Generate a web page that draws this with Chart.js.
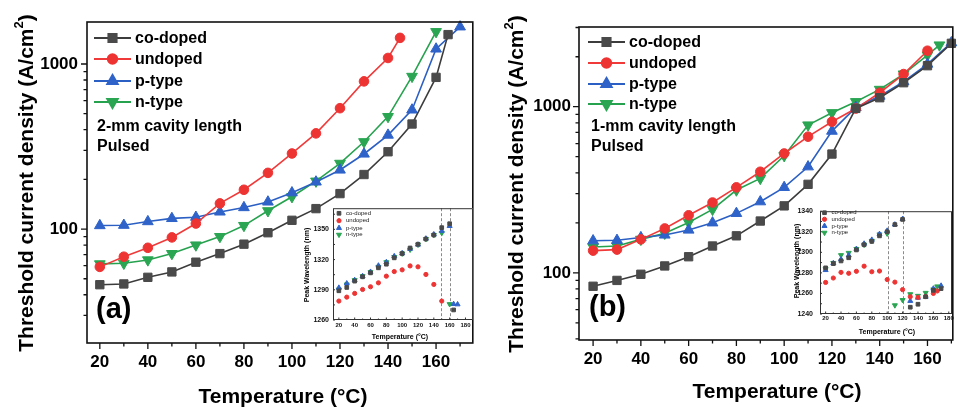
<!DOCTYPE html>
<html>
<head>
<meta charset="utf-8">
<script src="https://cdn.jsdelivr.net/npm/chart.js@4.4.0/dist/chart.umd.min.js"></script>
<style>
  body { margin: 0; background: #fff; width: 960px; height: 407px; overflow: hidden; position: relative; }
  canvas { position: absolute; }
</style>
</head>
<body>
<canvas id="mainA" width="480" height="407" style="left:0;top:0;z-index:1"></canvas>
<canvas id="mainB" width="480" height="407" style="left:480px;top:0;z-index:1"></canvas>
<canvas id="insetA" width="178" height="142" style="left:300px;top:200px;z-index:2"></canvas>
<canvas id="insetB" width="172" height="140" style="left:785px;top:200px;z-index:2"></canvas>
<script>
var FONT = "'Liberation Sans', Arial, Helvetica, sans-serif";

var seriesNames = ['co-doped', 'undoped', 'p-type', 'n-type'];
var lineColors  = ['#3c3c3c', '#f03a3a', '#2b5fc4', '#26a24f'];
var markColors  = ['#4a4a4a', '#ee3333', '#2f63c9', '#2aa552'];
var markStyles  = ['rect', 'circle', 'triangle', 'triangle'];
var markRot     = [0, 0, 0, 180];
var markSize    = [5.9, 4.8, 6.2, 6.2];
var insetSize   = [2.6, 2.1, 2.9, 2.9];

// (a) 2-mm cavity, threshold current density vs temperature
var aTempCo = [20, 30, 40, 50, 60, 70, 80, 90, 100, 110, 120, 130, 140, 150, 160, 165];
var aJthCo  = [46, 46.5, 51, 55, 63, 71, 81, 95, 113, 133, 164, 214, 294, 433, 830, 1507];
var aTempUn = [20, 30, 40, 50, 60, 70, 80, 90, 100, 110, 120, 130, 140, 145];
var aJthUn  = [59, 68, 77, 89, 108, 143, 173, 219, 287, 380, 540, 785, 1088, 1440];
var aTempP  = [20, 30, 40, 50, 60, 70, 80, 90, 100, 110, 120, 130, 140, 150, 160, 170];
var aJthP   = [105, 105.5, 111, 116, 118, 127, 135, 146, 166, 193, 228, 285, 371, 527, 1234, 1680];
var aTempN  = [20, 30, 40, 50, 60, 70, 80, 90, 100, 110, 120, 130, 140, 150, 160];
var aJthN   = [61.5, 62, 65, 71, 80, 90, 105, 129, 157, 195, 250, 338, 480, 841, 1570];

// (b) 1-mm cavity
var bTempCo = [20, 30, 40, 50, 60, 70, 80, 90, 100, 110, 120, 130, 140, 150, 160, 170];
var bJthCo  = [83, 90, 98, 110, 125, 145, 167, 205, 253, 341, 519, 977, 1133, 1395, 1766, 2408];
var bTempUn = [20, 30, 40, 50, 60, 70, 80, 90, 100, 110, 120, 130, 140, 150, 160];
var bJthUn  = [136, 138, 159, 185, 222, 265, 327, 406, 523, 660, 812, 975, 1214, 1573, 2174];
var bTempP  = [20, 30, 40, 50, 60, 70, 80, 90, 100, 110, 120, 130, 140, 150, 160, 170];
var bJthP   = [156, 157, 163, 169, 181, 200, 228, 268, 327, 435, 713, 990, 1159, 1415, 1807, 2430];
var bTempN  = [20, 30, 40, 50, 60, 70, 80, 90, 100, 110, 120, 130, 140, 150, 160, 165];
var bJthN   = [143, 145, 159, 173, 201, 241, 315, 370, 507, 776, 920, 1072, 1271, 1573, 2047, 2352];

// inset (a): peak wavelength (nm)
var iaTempCo = [20, 30, 40, 50, 60, 70, 80, 90, 100, 110, 120, 130, 140, 150, 160, 165];
var iaWlCo   = [1289, 1292.3, 1298.6, 1302.9, 1306.8, 1311.8, 1315.4, 1321.7, 1326, 1331.5, 1335.2, 1340.4, 1344.4, 1351.7, 1355.6, 1270];
var iaTempUn = [20, 30, 40, 50, 60, 70, 80, 90, 100, 110, 120, 130, 140, 150];
var iaWlUn   = [1278.8, 1282.7, 1286.4, 1290.3, 1293, 1296.9, 1303.5, 1308.1, 1309.8, 1313.7, 1312.8, 1305.2, 1295.3, 1278.8];
var iaTempP  = [20, 30, 40, 50, 60, 70, 80, 90, 100, 110, 120, 130, 140, 150, 160, 165, 170];
var iaWlP    = [1292, 1296.3, 1299.6, 1303.5, 1307.8, 1314, 1317.4, 1323.3, 1326.3, 1330.6, 1334.8, 1340.8, 1345, 1348.4, 1353.3, 1275.8, 1275.5];
var iaTempN  = [20, 30, 40, 50, 60, 70, 80, 90, 100, 110, 120, 130, 140, 150, 160];
var iaWlN    = [1290.3, 1295.3, 1299.6, 1303.5, 1307.5, 1312.8, 1317.4, 1322.6, 1326, 1329.9, 1334.8, 1340.4, 1344.4, 1346.4, 1275.8];
var iaCuts   = [149.5, 160];

// inset (b)
var ibTempCo = [20, 30, 40, 50, 60, 70, 80, 90, 100, 110, 120, 130, 140, 150, 160, 170];
var ibWlCo   = [1284.9, 1289, 1291.6, 1294.7, 1302.3, 1307.4, 1310.6, 1316, 1320, 1327, 1332, 1246.6, 1249.5, 1256.8, 1263, 1264.7];
var ibTempUn = [20, 30, 40, 50, 60, 70, 80, 90, 100, 110, 120, 130, 140, 150, 160, 165];
var ibWlUn   = [1270.7, 1275, 1280.5, 1279.6, 1281.5, 1286.5, 1281.1, 1281.8, 1273.5, 1271, 1263.7, 1256.8, 1256.1, 1257, 1260, 1262.4];
var ibTempP  = [20, 30, 40, 50, 60, 70, 80, 90, 100, 110, 120, 130, 140, 150, 160, 170];
var ibWlP    = [1282.7, 1289.4, 1293.2, 1297, 1303.3, 1308.4, 1312.2, 1317.8, 1321, 1327, 1332.4, 1252.7, 1255.8, 1256.8, 1264.7, 1267.5];
var ibTempN  = [20, 30, 40, 50, 60, 70, 80, 90, 100, 110, 120, 130, 140, 150, 160, 165];
var ibWlN    = [1283.7, 1289.7, 1297.3, 1299.5, 1303.3, 1307.4, 1311.2, 1317.5, 1318.2, 1248.5, 1253.6, 1259.3, 1257.7, 1260.6, 1264, 1266.9];
var ibCuts   = [100.5, 121];

// tick labels
var mainXTicks = [20, 40, 60, 80, 100, 120, 140, 160];
var mainYTicks = [100, 1000];
var insetXTicks = [20, 40, 60, 80, 100, 120, 140, 160, 180];
var iaYTicks = [1260, 1290, 1320, 1350];
var ibYTicks = [1240, 1260, 1280, 1300, 1320, 1340];

function pts(xs, ys) {
  return xs.map(function (x, i) { return { x: x, y: ys[i] }; });
}

function makeSets(list, sizes, showLine) {
  return list.map(function (s, i) {
    return {
      label: seriesNames[i],
      data: pts(s[0], s[1]),
      showLine: showLine,
      borderColor: lineColors[i],
      backgroundColor: markColors[i],
      pointBackgroundColor: markColors[i],
      pointBorderColor: markColors[i],
      pointStyle: markStyles[i],
      pointRotation: markRot[i],
      pointRadius: sizes[i],
      pointBorderWidth: 1,
      borderWidth: 1.6,
      tension: 0,
      clip: false
    };
  });
}

function drawMark(ctx, i, x, y, r) {
  ctx.fillStyle = markColors[i];
  ctx.strokeStyle = markColors[i];
  Chart.helpers.drawPoint(ctx, { pointStyle: markStyles[i], rotation: markRot[i], radius: r, borderWidth: 1 }, x, y);
}

function drawYTitle(ctx, text, cx, cy, size, sup) {
  ctx.save();
  ctx.translate(cx, cy);
  ctx.rotate(-Math.PI / 2);
  var f = 'bold ' + size + 'px ' + FONT;
  var fs = 'bold ' + Math.round(size * 0.62) + 'px ' + FONT;
  var p3 = sup ? ')' : '';
  ctx.font = f;
  var w1 = ctx.measureText(text).width, w3 = ctx.measureText(p3).width;
  ctx.font = fs;
  var w2 = sup ? ctx.measureText('2').width : 0;
  var x = -(w1 + w2 + w3) / 2;
  ctx.fillStyle = '#000';
  ctx.textAlign = 'left';
  ctx.textBaseline = 'middle';
  ctx.font = f;
  ctx.fillText(text, x, 0);
  if (sup) {
    ctx.font = fs;
    ctx.fillText('2', x + w1, -size * 0.38);
    ctx.font = f;
    ctx.fillText(p3, x + w1 + w2, 0);
  }
  ctx.restore();
}

function mainPlugin(p) {
  return {
    id: 'mainDeco',
    afterDraw: function (chart) {
      var ctx = chart.ctx, a = chart.chartArea, xs = chart.scales.x, ys = chart.scales.y;
      ctx.save();
      ctx.strokeStyle = '#111';
      ctx.lineWidth = 1.6;
      ctx.strokeRect(a.left, a.top, a.right - a.left, a.bottom - a.top);
      // ticks
      ctx.lineWidth = 1.3;
      ctx.beginPath();
      for (var t = 20; t <= xs.max; t += 10) {
        var px = xs.getPixelForValue(t);
        var len = (t % 20 === 0) ? 6 : 3.5;
        ctx.moveTo(px, a.bottom);
        ctx.lineTo(px, a.bottom + len);
      }
      [10, 100, 1000].forEach(function (dec) {
        for (var k = 1; k <= 9; k++) {
          var v = dec * k;
          if (v < ys.min || v > ys.max) continue;
          var py = ys.getPixelForValue(v);
          ctx.moveTo(a.left, py);
          ctx.lineTo(a.left - (k === 1 ? 6 : 3.5), py);
        }
      });
      ctx.stroke();

      // legend
      ctx.font = 'bold 16px ' + FONT;
      ctx.textBaseline = 'middle';
      ctx.textAlign = 'left';
      chart.data.datasets.forEach(function (ds, i) {
        var y = p.legY[i];
        ctx.strokeStyle = ds.borderColor;
        ctx.lineWidth = 1.8;
        ctx.beginPath();
        ctx.moveTo(p.legX, y);
        ctx.lineTo(p.legX + 37, y);
        ctx.stroke();
        drawMark(ctx, i, p.legX + 18.5, y, markSize[i]);
        ctx.fillStyle = '#000';
        ctx.fillText(ds.label, p.legX + 41, y + 1);
      });

      // notes
      ctx.fillStyle = '#000';
      ctx.font = 'bold 16px ' + FONT;
      p.notes.forEach(function (s, i) {
        ctx.fillText(s, p.noteX, p.noteY[i]);
      });
      ctx.font = 'bold 29px ' + FONT;
      ctx.fillText(p.tag, p.tagX, p.tagY);

      // axis titles
      ctx.font = 'bold 21px ' + FONT;
      ctx.textAlign = 'center';
      ctx.fillText('Temperature (\u00B0C)', p.xtX, p.xtY);
      ctx.restore();
      drawYTitle(ctx, 'Threshold current density (A/cm', p.ytX, p.ytY, 21, true);
    }
  };
}

function insetPlugin(p) {
  return {
    id: 'insetDeco',
    beforeDatasetsDraw: function (chart) {
      var ctx = chart.ctx, a = chart.chartArea, xs = chart.scales.x;
      ctx.save();
      ctx.fillStyle = '#fff';
      ctx.fillRect(a.left, a.top, a.right - a.left, a.bottom - a.top);
      ctx.strokeStyle = '#8a8a8a';
      ctx.lineWidth = 1;
      ctx.setLineDash([3, 2]);
      p.cuts.forEach(function (c) {
        var px = Math.round(xs.getPixelForValue(c)) + 0.5;
        ctx.beginPath();
        ctx.moveTo(px, a.top);
        ctx.lineTo(px, a.bottom);
        ctx.stroke();
      });
      ctx.restore();
    },
    afterDraw: function (chart) {
      var ctx = chart.ctx, a = chart.chartArea, xs = chart.scales.x, ys = chart.scales.y;
      ctx.save();
      ctx.strokeStyle = '#333';
      ctx.lineWidth = 1;
      ctx.strokeRect(a.left + 0.5, a.top + 0.5, a.right - a.left - 1, a.bottom - a.top - 1);
      ctx.beginPath();
      for (var t = 20; t <= 180; t += 10) {
        var px = xs.getPixelForValue(t);
        ctx.moveTo(px, a.bottom);
        ctx.lineTo(px, a.bottom - (t % 20 === 0 ? 2.5 : 1.5));
      }
      for (var v = p.yStart; v <= ys.max; v += p.yMinor) {
        var py = ys.getPixelForValue(v);
        ctx.moveTo(a.left, py);
        ctx.lineTo(a.left + 2, py);
      }
      ctx.stroke();

      ctx.font = '6px ' + FONT;
      ctx.textBaseline = 'middle';
      ctx.textAlign = 'left';
      chart.data.datasets.forEach(function (ds, i) {
        drawMark(ctx, i, p.legX, p.legY[i], insetSize[i]);
        ctx.fillStyle = '#222';
        ctx.fillText(ds.label, p.legX + 7, p.legY[i]);
      });

      ctx.fillStyle = '#000';
      ctx.font = 'bold 7px ' + FONT;
      ctx.textAlign = 'center';
      ctx.fillText('Temperature (\u00B0C)', p.xtX, p.xtY);
      ctx.restore();
      drawYTitle(ctx, 'Peak Wavelength (nm)', p.ytX, p.ytY, 7, false);
    }
  };
}

function mainChart(id, sets, xmin, xmax, ymin, ymax, pad, yw, xh, ypad, deco) {
  return new Chart(document.getElementById(id), {
    type: 'line',
    data: { datasets: makeSets(sets, markSize, true) },
    options: {
      responsive: false,
      animation: false,
      layout: { padding: pad },
      plugins: { legend: { display: false }, tooltip: { enabled: false } },
      scales: {
        x: {
          type: 'linear', min: xmin, max: xmax,
          grid: { display: false, drawTicks: false },
          border: { display: false },
          afterBuildTicks: function (s) { s.ticks = mainXTicks.map(function (v) { return { value: v }; }); },
          afterFit: function (s) { s.height = xh; },
          ticks: { padding: 9, color: '#000', font: { family: FONT, size: 17, weight: 'bold' }, maxRotation: 0, autoSkip: false }
        },
        y: {
          type: 'logarithmic', min: ymin, max: ymax,
          grid: { display: false, drawTicks: false },
          border: { display: false },
          afterBuildTicks: function (s) { s.ticks = mainYTicks.map(function (v) { return { value: v }; }); },
          afterFit: function (s) { s.width = yw; },
          ticks: { padding: ypad, color: '#000', font: { family: FONT, size: 17, weight: 'bold' },
                   callback: function (v) { return String(v); } }
        }
      }
    },
    plugins: [mainPlugin(deco)]
  });
}

function insetChart(id, sets, xmin, xmax, ymin, ymax, pad, yw, xh, yTicks, xpad, ypad, deco) {
  return new Chart(document.getElementById(id), {
    type: 'scatter',
    data: { datasets: makeSets(sets, insetSize, false) },
    options: {
      responsive: false,
      animation: false,
      layout: { padding: pad },
      plugins: { legend: { display: false }, tooltip: { enabled: false } },
      scales: {
        x: {
          type: 'linear', min: xmin, max: xmax,
          grid: { display: false, drawTicks: false },
          border: { display: false },
          afterBuildTicks: function (s) { s.ticks = insetXTicks.map(function (v) { return { value: v }; }); },
          afterFit: function (s) { s.height = xh; },
          ticks: { padding: xpad, color: '#111', font: { family: FONT, size: 6, weight: 'bold' }, maxRotation: 0, autoSkip: false,
                   callback: function (v) { return String(v); } }
        },
        y: {
          type: 'linear', min: ymin, max: ymax,
          grid: { display: false, drawTicks: false },
          border: { display: false },
          afterBuildTicks: function (s) { s.ticks = yTicks.map(function (v) { return { value: v }; }); },
          afterFit: function (s) { s.width = yw; },
          ticks: { padding: ypad, color: '#111', font: { family: FONT, size: 7, weight: 'bold' },
                   callback: function (v) { return String(v); } }
        }
      }
    },
    plugins: [insetPlugin(deco)]
  });
}

mainChart('mainA',
  [[aTempCo, aJthCo], [aTempUn, aJthUn], [aTempP, aJthP], [aTempN, aJthN]],
  14.66, 175.3, 20.4, 1797,
  { left: 0, top: 22, right: 2, bottom: 0 }, 87, 64, 9,
  { legX: 94, legY: [38, 59, 81, 102], notes: ['2-mm cavity length', 'Pulsed'], noteX: 97, noteY: [127, 147],
    tag: '(a)', tagX: 96, tagY: 310, xtX: 283, xtY: 397, ytX: 27, ytY: 183 });

mainChart('mainB',
  [[bTempCo, bJthCo], [bTempUn, bJthUn], [bTempP, bJthP], [bTempN, bJthN]],
  14.1, 170.6, 39.4, 3020,
  { left: 0, top: 27, right: 1, bottom: 0 }, 99, 67, 8,
  { legX: 108, legY: [42, 63, 84, 104], notes: ['1-mm cavity length', 'Pulsed'], noteX: 111, noteY: [127, 147],
    tag: '(b)', tagX: 109, tagY: 308, xtX: 297, xtY: 392, ytX: 37, ytY: 184 });

insetChart('insetA',
  [[iaTempCo, iaWlCo], [iaTempUn, iaWlUn], [iaTempP, iaWlP], [iaTempN, iaWlN]],
  12.6, 189.5, 1260, 1371,
  { left: 0, top: 8, right: 2, bottom: 0 }, 33, 22, iaYTicks, 2, 4,
  { cuts: iaCuts, yStart: 1260, yMinor: 15, legX: 39, legY: [13.3, 20.7, 28, 34.7], xtX: 100, xtY: 137, ytX: 7, ytY: 65 });

insetChart('insetB',
  [[ibTempCo, ibWlCo], [ibTempUn, ibWlUn], [ibTempP, ibWlP], [ibTempN, ibWlN]],
  12.7, 184.2, 1240, 1340,
  { left: 0, top: 8, right: 4, bottom: 0 }, 35, 26, ibYTicks, 1, 7,
  { cuts: ibCuts, yStart: 1240, yMinor: 10, legX: 39.5, legY: [12.7, 19.3, 26, 32.7], xtX: 102, xtY: 132, ytX: 12, ytY: 61 });
</script>
</body>
</html>
